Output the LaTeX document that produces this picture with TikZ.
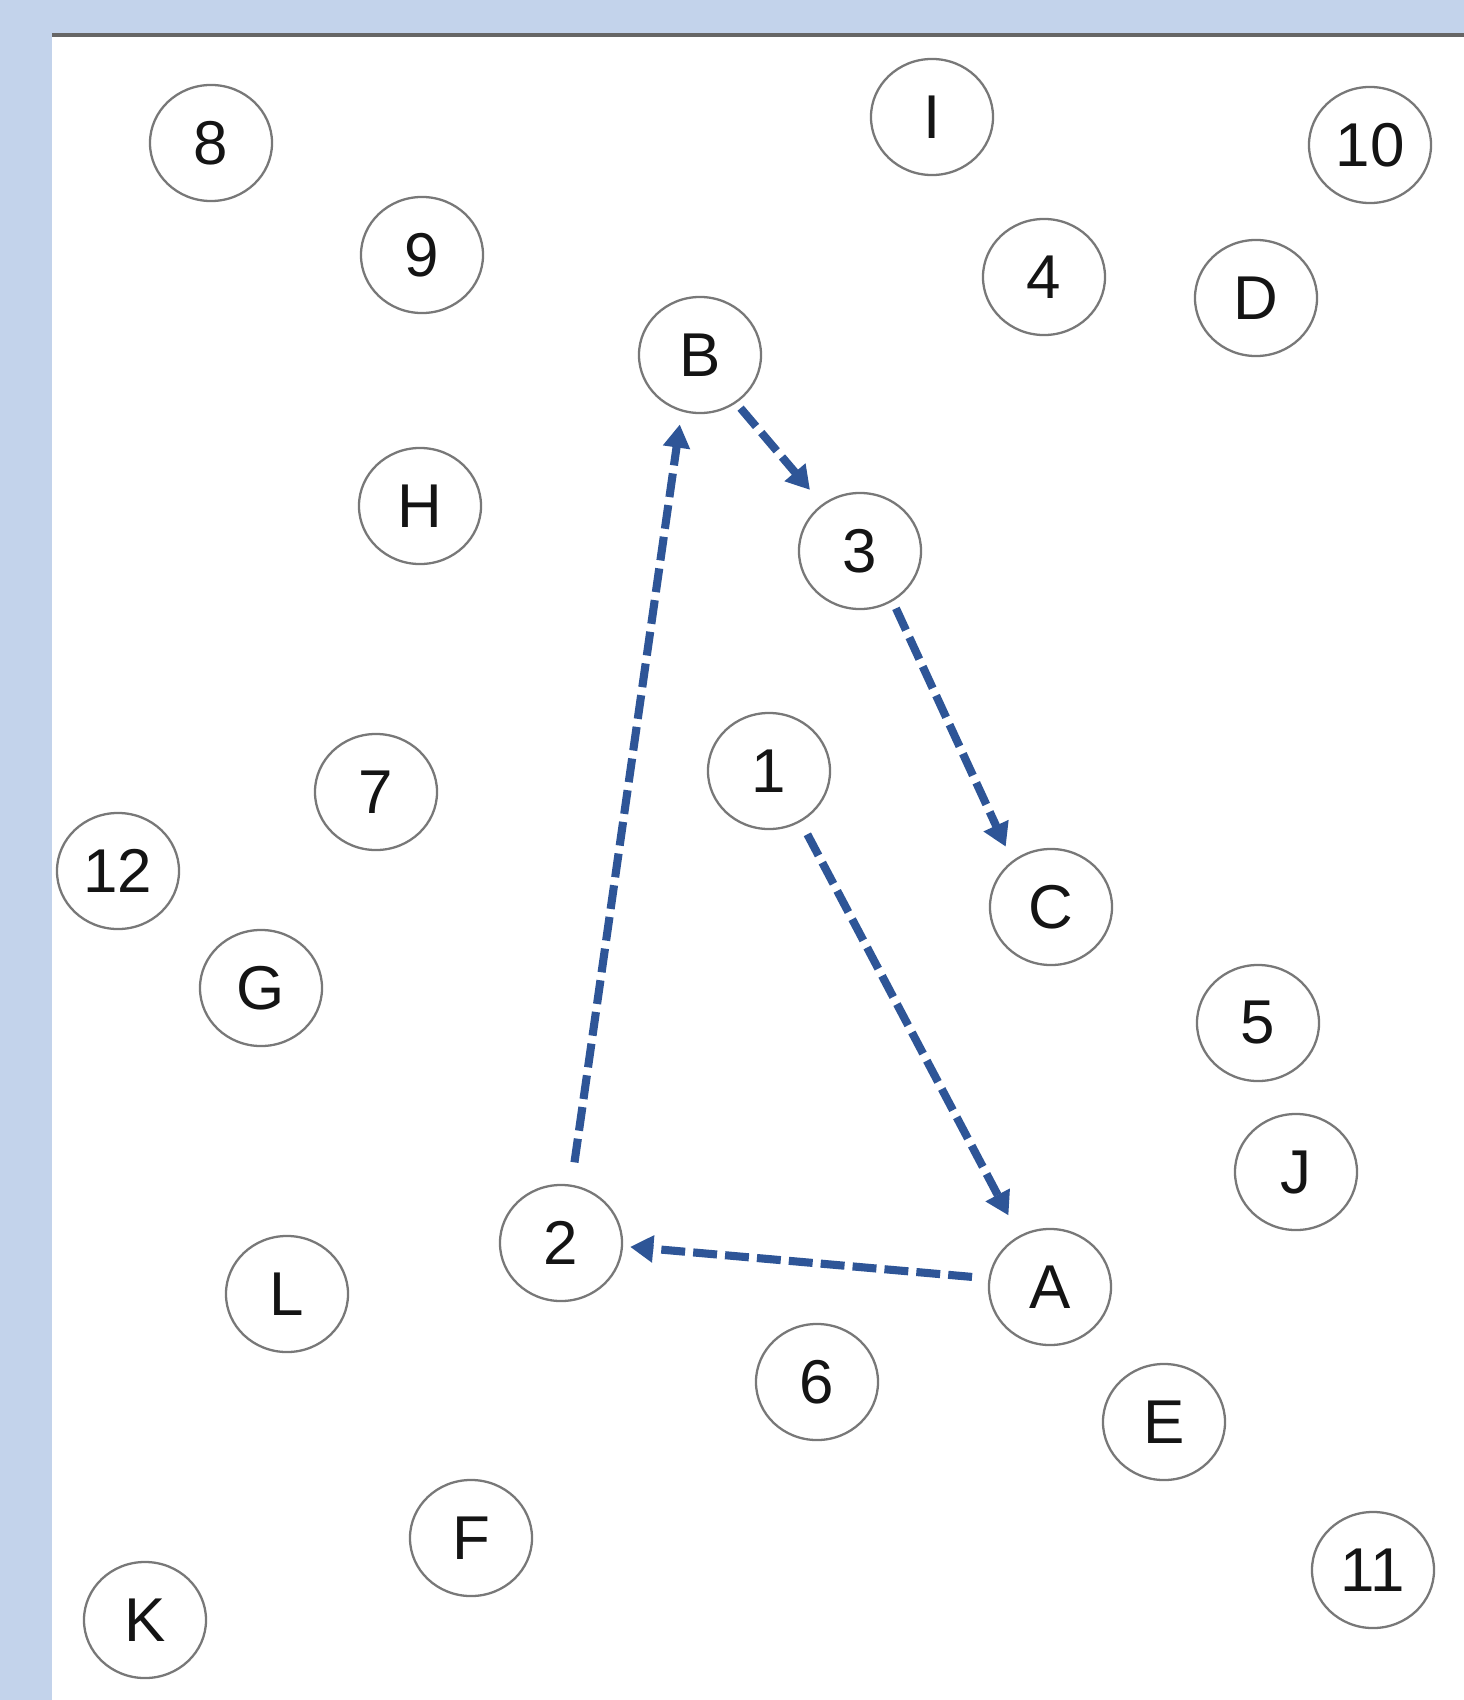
\documentclass[tikz,border=0pt]{standalone}
\usepackage{fontspec}
\setmainfont{Liberation Sans}
\usetikzlibrary{arrows.meta,shapes.geometric}
\definecolor{bgblue}{RGB}{195,211,235}
\definecolor{arrblue}{RGB}{46,85,151}
\definecolor{ringgray}{RGB}{120,120,120}
\definecolor{topline}{RGB}{102,102,102}
\tikzset{
  nd/.style={ellipse,draw=ringgray,line width=0.65pt,fill=white,minimum width=1.22cm,minimum height=1.16cm,inner sep=0pt,font=\fontsize{17.6}{17.6}\selectfont,text=black!92},
  flow/.style={draw=arrblue,line width=2.3pt,dash pattern=on 6.8pt off 2.3pt,-{Triangle[width=7.4pt,length=6.6pt]}}
}
\begin{document}
\begin{tikzpicture}[x=0.01cm,y=-0.01cm]
\useasboundingbox (0,0) rectangle (1464,1700);
\fill[bgblue] (0,0) rectangle (1464,1700);
\fill[white] (52,37) rectangle (1464,1700);
\fill[topline] (52,33.5) rectangle (1464,37.5);
\node[nd] (n8) at (211,143) {8};
\node[nd] (n9) at (422,255) {9};
\node[nd] (nI) at (932,117) {I};
\node[nd] (n10) at (1370,145) {10};
\node[nd] (n4) at (1044,277) {4};
\node[nd] (nD) at (1256,298) {D};
\node[nd] (nB) at (700,355) {B};
\node[nd] (nH) at (420,506) {H};
\node[nd] (n3) at (860,551) {3};
\node[nd] (n1) at (769,771) {1};
\node[nd] (n7) at (376,792) {7};
\node[nd] (n12) at (118,871) {12};
\node[nd] (nC) at (1051,907) {C};
\node[nd] (nG) at (261,988) {G};
\node[nd] (n5) at (1258,1023) {5};
\node[nd] (nJ) at (1296,1172) {J};
\node[nd] (n2) at (561,1243) {2};
\node[nd] (nA) at (1050,1287) {A};
\node[nd] (nL) at (287,1294) {L};
\node[nd] (n6) at (817,1382) {6};
\node[nd] (nE) at (1164,1422) {E};
\node[nd] (nF) at (471,1538) {F};
\node[nd] (n11) at (1373,1570) {11};
\node[nd] (nK) at (145,1620) {K};
\draw[flow,shorten <=6.4pt,shorten >=3.7pt] (n2.80) -- (nB.-108);
\draw[flow,shorten <=1.9pt,shorten >=5.3pt] (nB.-53) -- (n3.129);
\draw[flow,shorten <=2.2pt,shorten >=4.4pt] (n3.-57) -- (nC.130);
\draw[flow,shorten <=4pt,shorten >=6.5pt] (n1.-58) -- (nA.121.6);
\draw[flow,shorten <=4.7pt,shorten >=2pt] (nA.172.6) -- (n2.-3.4);
\end{tikzpicture}
\end{document}
